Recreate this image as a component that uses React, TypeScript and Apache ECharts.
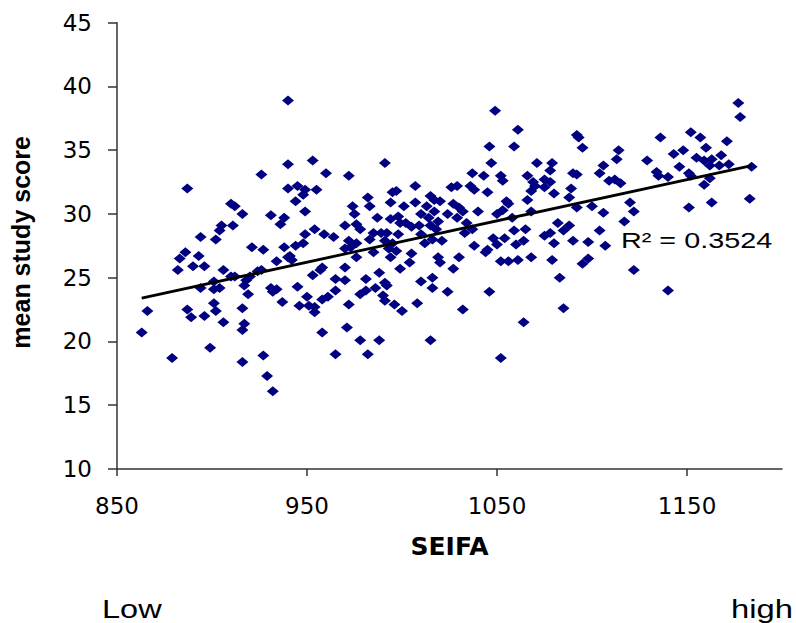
import React, { useEffect, useRef } from "react";
import * as echarts from "echarts";

// SEIFA index of each school (x) and its mean study score (y)
const seifa = [
  940, 926, 940, 887, 940, 910, 912, 916, 931, 938, 936, 905, 911, 904, 894, 902, 921, 938,
  927, 886, 883, 893, 882, 890, 896, 906, 910, 912, 918, 920, 924, 926, 934, 940, 894, 901,
  901, 904, 917, 919, 931, 934, 932, 937, 901, 902, 887, 889, 896, 906, 916, 917, 916, 866,
  863, 899, 879, 927, 916, 929, 932,
  953, 960, 972, 991, 945, 949, 955, 948, 944, 949, 954, 949, 948, 944, 959, 964, 970, 976,
  978, 974, 975, 982, 983, 987, 994, 998, 999, 1002, 995, 997, 994, 1001, 1007, 1007, 1013,
  1015, 1017, 1020, 1010, 1014, 1017, 1019, 1024, 1009, 1015, 1018, 1005, 1010, 1016, 1012,
  1021, 985, 989, 992, 998, 995, 991, 983, 976, 972,
  941, 942, 970, 973, 976, 985, 993, 994, 997, 1005, 1004, 1019, 1020, 958, 957, 953, 970,
  965, 970, 981, 988, 999, 991, 992, 986, 981, 978, 965, 961, 958, 950, 946, 951, 954, 954,
  945, 972, 990, 991, 996, 1000, 1008, 1010, 1016, 1016, 1024, 958, 971, 978, 988, 1015,
  965, 982,
  1049, 1061, 1059, 1046, 1092, 1093, 1095, 1047, 1037, 1043, 1052, 1053, 1029, 1026, 1036,
  1038, 1045, 1066, 1071, 1079, 1078, 1069, 1070, 1075, 1075, 1078, 1080, 1068, 1066, 1090,
  1092, 1104, 1106, 1089, 1088, 1092, 1100, 1106, 1027, 1030, 1032, 1029, 1040, 1055, 1056,
  1053, 1050, 1058, 1068, 1034, 1037, 1033, 1059, 1065, 1082, 1088, 1085, 1075, 1078, 1104,
  1048, 1054, 1050, 1038, 1045, 1064, 1060, 1080, 1090, 1098, 1107,
  1044, 1030, 1027, 1052, 1056, 1061, 1068, 1079, 1098, 1095, 1083, 1046, 1032, 1085, 1064,
  1052,
  1177, 1178, 1136, 1152, 1157, 1171, 1114, 1113, 1129, 1148, 1143, 1160, 1168, 1155, 1159,
  1163, 1162, 1167, 1172, 1184, 1146, 1134, 1135, 1140, 1151, 1109, 1112, 1115, 1159, 1162,
  1152, 1120, 1122, 1117, 1151, 1163, 1183, 1122, 1140,
];

const score = [
  38.9, 33.1, 33.9, 32.0, 32.0, 30.8, 30.6, 30.0, 29.9, 29.7, 29.2, 29.1, 29.1, 28.7, 28.2, 28.0, 27.4, 27.4,
  27.2, 27.0, 26.5, 26.7, 25.6, 25.9, 25.9, 25.6, 25.1, 25.1, 24.8, 25.1, 25.5, 25.6, 26.3, 26.6, 24.2, 24.7,
  24.1, 24.2, 24.4, 23.7, 24.2, 24.1, 23.9, 23.1, 23.0, 22.4, 22.5, 21.9, 22.0, 21.5, 22.6, 21.4, 20.9, 22.4,
  20.7, 19.5, 18.7, 18.9, 18.4, 17.3, 16.1,
  34.2, 33.2, 33.0, 34.0, 32.2, 31.9, 31.9, 31.5, 31.0, 30.2, 28.8, 28.4, 27.7, 27.5, 28.4, 28.2, 29.1, 29.2,
  28.8, 30.6, 30.0, 31.3, 30.6, 29.7, 29.6, 29.8, 29.3, 29.3, 31.7, 31.8, 30.9, 30.6, 32.2, 30.9, 30.6,
  31.4, 31.1, 31.0, 30.0, 29.7, 30.2, 29.4, 30.0, 29.1, 29.1, 28.8, 29.0, 28.4, 28.0, 27.7,
  27.9, 28.5, 28.5, 28.5, 28.4, 27.7, 27.9, 28.0, 27.7, 27.9,
  26.7, 26.4, 27.3, 27.4, 26.6, 27.0, 27.3, 26.6, 27.1, 26.9, 26.2, 26.6, 26.2, 25.8, 25.6, 25.2, 25.8,
  24.9, 24.8, 24.9, 25.4, 25.7, 24.6, 24.4, 24.2, 24.0, 23.7, 24.0, 23.5, 23.3, 23.5, 22.8, 22.8, 22.7, 22.3,
  24.3, 22.9, 23.6, 23.2, 22.9, 22.4, 23.0, 24.7, 25.0, 24.2, 23.9, 20.7, 21.1, 20.1, 20.1, 20.1,
  19.0, 19.0,
  38.1, 36.6, 35.3, 35.3, 36.2, 36.0, 35.2, 34.0, 33.2, 33.0, 33.0, 32.6, 32.2, 32.1, 32.2,
  31.9, 31.7, 33.0, 34.0, 34.0, 33.4, 32.5, 32.2, 32.7, 32.1, 32.5, 31.6, 31.8, 31.1, 33.2,
  33.1, 33.2, 33.8, 32.0, 31.3, 30.5, 30.6, 30.1, 30.8, 30.5, 30.2, 29.7, 30.2, 31.0, 30.8,
  30.3, 30.0, 29.7, 30.2, 29.3, 28.8, 28.5, 28.7, 28.8, 29.3, 29.1, 28.7, 28.3, 28.5, 28.7,
  28.1, 28.1, 27.6, 27.5, 27.2, 27.9, 27.6, 27.7, 27.9, 27.8, 27.5,
  27.0, 26.6, 25.7, 26.3, 26.3, 26.4, 26.6, 26.4, 26.5, 26.1, 25.0, 23.9, 22.5, 22.6, 21.5,
  18.7,
  38.7, 37.6, 36.0, 36.4, 36.0, 35.7, 35.0, 34.3, 34.2, 35.0, 34.7, 35.2, 34.6, 34.4, 34.2,
  34.3, 33.8, 33.8, 33.9, 33.7, 33.7, 33.3, 33.0, 32.9, 33.2, 32.6, 32.7, 32.4, 32.3, 32.8,
  33.0, 30.9, 30.2, 29.4, 30.5, 30.9, 31.2, 25.6, 24.0,
];

// Linear trend line end points, as drawn in the picture
const trendSeifa = [863, 1184];
const trendScore = [23.4, 33.8];
const rSquaredText = "R\u00B2 = 0.3524";

const xTickValues = [850, 950, 1050, 1150];
const xMin = 850;
const xMax = 1200;
const yMin = 10;
const yMax = 45;
const yStep = 5;

export default function App() {
  const ref = useRef<HTMLDivElement>(null);

  useEffect(() => {
    if (!ref.current) return;
    const chart = echarts.init(ref.current, null, { renderer: "svg" });
    const points = seifa.map((x, i) => [x, score[i]]);
    const trend = trendSeifa.map((x, i) => [x, trendScore[i]]);

    chart.setOption({
      animation: false,
      backgroundColor: "#ffffff",
      grid: { left: 116, right: 14, top: 22.7, bottom: 154, containLabel: false },
      xAxis: {
        type: "value",
        min: xMin,
        max: xMax,
        name: "SEIFA",
        nameLocation: "middle",
        nameGap: 65,
        nameTextStyle: {
          fontFamily: "DejaVu Sans",
          fontWeight: "bold",
          fontSize: 25,
          color: "#000",
        },
        axisLine: { show: true, lineStyle: { color: "#333", width: 1.5 } },
        axisTick: {
          show: true,
          length: 7,
          customValues: xTickValues,
          lineStyle: { color: "#333", width: 1.5 },
        },
        axisLabel: {
          customValues: xTickValues,
          formatter: (v: number) => String(v),
          margin: 25,
          fontFamily: "DejaVu Sans",
          fontSize: 23,
          color: "#000",
        },
        splitLine: { show: false },
      },
      yAxis: {
        type: "value",
        min: yMin,
        max: yMax,
        interval: yStep,
        name: "mean study score",
        nameLocation: "middle",
        nameGap: 84,
        nameRotate: 90,
        nameTextStyle: {
          fontFamily: "Liberation Sans",
          fontWeight: "bold",
          fontSize: 25,
          color: "#000",
          padding: [0, 0, 0, 7],
        },
        axisLine: { show: true, lineStyle: { color: "#333", width: 1.5 } },
        axisTick: { show: true, length: 9, lineStyle: { color: "#333", width: 1.5 } },
        axisLabel: {
          margin: 25,
          fontFamily: "DejaVu Sans",
          fontSize: 23,
          color: "#000",
        },
        splitLine: { show: false },
      },
      series: [
        {
          type: "scatter",
          data: points,
          symbol: "diamond",
          symbolSize: [12, 10],
          itemStyle: { color: "#000080", opacity: 1 },
          z: 2,
        },
        {
          type: "line",
          data: trend,
          showSymbol: false,
          symbol: "none",
          lineStyle: { color: "#000", width: 2.8 },
          z: 3,
        },
      ],
      graphic: [
        {
          type: "text",
          x: 621,
          y: 240,
          scaleX: 1.28,
          style: {
            text: rSquaredText,
            fontFamily: "Liberation Sans",
            fontSize: 22.5,
            fill: "#000",
            align: "left",
            verticalAlign: "middle",
          },
          z: 10,
        },
        {
          type: "text",
          x: 102,
          y: 609,
          scaleX: 1.3,
          style: {
            text: "Low",
            fontFamily: "Liberation Sans",
            fontSize: 25,
            fill: "#000",
            align: "left",
            verticalAlign: "middle",
          },
        },
        {
          type: "text",
          x: 731,
          y: 609,
          scaleX: 1.31,
          style: {
            text: "high",
            fontFamily: "Liberation Sans",
            fontSize: 25,
            fill: "#000",
            align: "left",
            verticalAlign: "middle",
          },
        },
      ],
    });

    return () => chart.dispose();
  }, []);

  return (
    <div
      ref={ref}
      style={{ position: "fixed", left: 0, top: 0, width: 796, height: 623, background: "#fff" }}
    />
  );
}
